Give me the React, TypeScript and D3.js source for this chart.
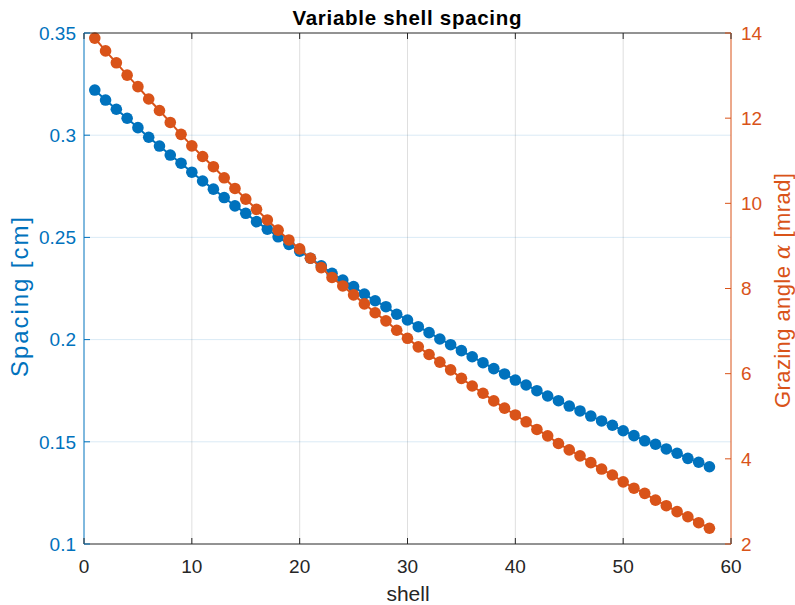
import React from "react";
import * as d3 from "d3";

const shells: number[] = d3.range(1, 59);
const spacing: number[] = [
  0.3221, 0.3172, 0.3127, 0.3083, 0.3037, 0.2990, 0.2947, 0.2903, 0.2863, 0.2819,
  0.2776, 0.2736, 0.2695, 0.2654, 0.2618, 0.2577, 0.2540, 0.2503, 0.2466, 0.2433,
  0.2398, 0.2361, 0.2324, 0.2291, 0.2259, 0.2223, 0.2190, 0.2161, 0.2124, 0.2096,
  0.2063, 0.2034, 0.2003, 0.1975, 0.1946, 0.1916, 0.1887, 0.1858, 0.1832, 0.1802,
  0.1778, 0.1750, 0.1724, 0.1701, 0.1675, 0.1651, 0.1626, 0.1602, 0.1581, 0.1554,
  0.1530, 0.1505, 0.1488, 0.1465, 0.1444, 0.1419, 0.1400, 0.1378,
];
const grazing: number[] = [
  13.88, 13.58, 13.30, 13.01, 12.74, 12.45, 12.18, 11.90, 11.62, 11.35,
  11.10, 10.86, 10.60, 10.35, 10.10, 9.86, 9.61, 9.37, 9.14, 8.93,
  8.71, 8.49, 8.26, 8.06, 7.85, 7.64, 7.43, 7.24, 7.02, 6.83,
  6.63, 6.45, 6.27, 6.09, 5.89, 5.71, 5.54, 5.36, 5.19, 5.03,
  4.87, 4.69, 4.54, 4.36, 4.21, 4.07, 3.91, 3.76, 3.62, 3.46,
  3.31, 3.19, 3.03, 2.90, 2.76, 2.64, 2.50, 2.37,
];
const xTicks: number[] = [0, 10, 20, 30, 40, 50, 60];
const leftTicks: number[] = [0.1, 0.15, 0.2, 0.25, 0.3, 0.35];
const rightTicks: number[] = [2, 4, 6, 8, 10, 12, 14];

const BLUE = "#0072BD";
const ORANGE = "#D95319";
const DARK = "#262626";
const FONT = "'Liberation Sans', Arial, Helvetica, sans-serif";

export default function App() {
  const W = 795, H = 605;
  const L = 84, R = 731, T = 33, B = 544;
  const x = d3.scaleLinear().domain([0, 60]).range([L, R]);
  const yL = d3.scaleLinear().domain([0.1, 0.35]).range([B, T]);
  const yR = d3.scaleLinear().domain([2, 14]).range([B, T]);
  const lineL = d3.line<number>().x((_, i) => x(shells[i])).y((d) => yL(d));
  const lineR = d3.line<number>().x((_, i) => x(shells[i])).y((d) => yR(d));
  const tl = 6;
  const fmtL = (v: number) => String(+v.toFixed(2));

  return (
    <svg width={W} height={H} style={{ position: "absolute", left: 0, top: 0, background: "#fff" }} fontFamily={FONT}>
      <rect x={0} y={0} width={W} height={H} fill="#fff" />
      {/* grid */}
      {xTicks.slice(1, -1).map((t) => (
        <line key={"gx" + t} x1={x(t)} x2={x(t)} y1={T} y2={B} stroke={DARK} strokeOpacity={0.15} strokeWidth={1} />
      ))}
      {leftTicks.slice(1, -1).map((t) => (
        <line key={"gy" + t} x1={L} x2={R} y1={yL(t)} y2={yL(t)} stroke={BLUE} strokeOpacity={0.15} strokeWidth={1} />
      ))}
      {/* data */}
      <path d={lineL(spacing) || ""} fill="none" stroke={BLUE} strokeWidth={2} />
      {spacing.map((v, i) => (
        <circle key={"b" + i} cx={x(shells[i])} cy={yL(v)} r={5.8} fill={BLUE} />
      ))}
      <path d={lineR(grazing) || ""} fill="none" stroke={ORANGE} strokeWidth={2} />
      {grazing.map((v, i) => (
        <circle key={"o" + i} cx={x(shells[i])} cy={yR(v)} r={5.8} fill={ORANGE} />
      ))}
      {/* box */}
      <line x1={L} x2={R} y1={T} y2={T} stroke={DARK} strokeWidth={1} />
      <line x1={L} x2={R} y1={B} y2={B} stroke={DARK} strokeWidth={1} />
      <line x1={L} x2={L} y1={T} y2={B} stroke={BLUE} strokeWidth={1} />
      <line x1={R} x2={R} y1={T} y2={B} stroke={ORANGE} strokeWidth={1} />
      {/* x ticks */}
      {xTicks.map((t) => (
        <g key={"xt" + t}>
          <line x1={x(t)} x2={x(t)} y1={B} y2={B - tl} stroke={DARK} />
          <line x1={x(t)} x2={x(t)} y1={T} y2={T + tl} stroke={DARK} />
          <text x={x(t)} y={573} textAnchor="middle" fontSize={19} fill={DARK}>{t}</text>
        </g>
      ))}
      {/* left ticks */}
      {leftTicks.map((t) => (
        <g key={"lt" + t}>
          <line x1={L} x2={L + tl} y1={yL(t)} y2={yL(t)} stroke={BLUE} />
          <text x={76} y={yL(t) + 6.8} textAnchor="end" fontSize={19} fill={BLUE}>{fmtL(t)}</text>
        </g>
      ))}
      {/* right ticks */}
      {rightTicks.map((t) => (
        <g key={"rt" + t}>
          <line x1={R} x2={R - tl} y1={yR(t)} y2={yR(t)} stroke={ORANGE} />
          <text x={741} y={yR(t) + 6.8} textAnchor="start" fontSize={19} fill={ORANGE}>{t}</text>
        </g>
      ))}
      {/* labels */}
      <text x={407} y={25} textAnchor="middle" fontSize={20.5} fontWeight="bold" fill="#000" textLength={229} lengthAdjust="spacing">Variable shell spacing</text>
      <text x={408} y={601} textAnchor="middle" fontSize={21} fill={DARK}>shell</text>
      <text transform={`translate(28,297) rotate(-90)`} textAnchor="middle" fontSize={24} fill={BLUE} textLength={160} lengthAdjust="spacing">Spacing [cm]</text>
      <text transform={`translate(790,290.5) rotate(-90)`} textAnchor="middle" fontSize={22} fill={ORANGE} textLength={235} lengthAdjust="spacing">
        Grazing angle <tspan fontFamily="'DejaVu Serif', serif" fontStyle="italic">α</tspan> [mrad]
      </text>
    </svg>
  );
}
